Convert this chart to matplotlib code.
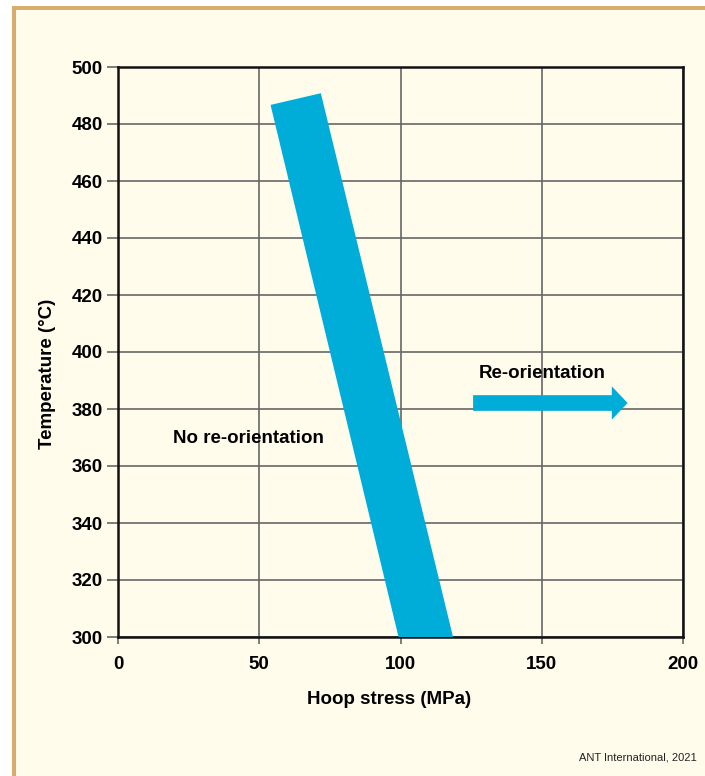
#! /usr/bin/env python

import matplotlib.pyplot as plt
from matplotlib.patches import Rectangle, Polygon, FancyArrow

# band separating the two regions (hoop stress, temperature corners)
band_stress = [54.0, 71.8, 118.6, 99.3]
band_temp = [486.7, 490.8, 300.0, 300.0]

# re-orientation arrow (start, end stress, temperature)
arrow_start = 125.7
arrow_end = 180.4
arrow_temp = 382.1

x_ticks = [0, 50, 100, 150, 200]
y_ticks = [300, 320, 340, 360, 380, 400, 420, 440, 460, 480, 500]

cream = '#FFFCEC'
tan = '#D8AC6E'
blue = '#00ADD8'

plt.rcParams['font.family'] = ['Liberation Sans Narrow', 'Liberation Sans', 'DejaVu Sans']
fs = 13.5

fig = plt.figure(figsize=[7.05, 7.76], dpi=100)
W, H = 705.0, 776.0

# panel background with tan border on left and top
fig.patches.append(Rectangle((12 / W, 0), 1, 1 - 6 / H, transform=fig.transFigure,
                             facecolor=cream, edgecolor='none', zorder=-3))
fig.patches.append(Rectangle((12 / W, 0), 4 / W, 1 - 6 / H, transform=fig.transFigure,
                             facecolor=tan, edgecolor='none', zorder=-2))
fig.patches.append(Rectangle((12 / W, 1 - 10 / H), 1, 4 / H, transform=fig.transFigure,
                             facecolor=tan, edgecolor='none', zorder=-2))

ax = fig.add_axes([118 / W, 1 - 637 / H, (683 - 118) / W, (637 - 67) / H])
ax.set_facecolor(cream)
ax.set_xlim(0, 200)
ax.set_ylim(300, 500)
ax.set_xticks(x_ticks)
ax.set_yticks(y_ticks)
ax.grid(True, color='#666666', linewidth=1.2)
ax.set_axisbelow(True)
for s in ax.spines.values():
    s.set_color('#111111')
    s.set_linewidth(1.8)
ax.tick_params(axis='y', length=8, width=1.2, color='#666666', pad=3)
ax.tick_params(axis='x', length=5, width=1.2, color='#666666', pad=9)
for lab in ax.get_xticklabels() + ax.get_yticklabels():
    lab.set_fontsize(fs)
    lab.set_fontweight('bold')

band = Polygon(list(zip(band_stress, band_temp)), closed=True,
               facecolor=blue, edgecolor='none', zorder=3)
ax.add_patch(band)

ax.add_patch(FancyArrow(arrow_start, arrow_temp, arrow_end - arrow_start, 0,
                        width=5.5, head_width=11.7, head_length=5.6,
                        length_includes_head=True, facecolor=blue,
                        edgecolor='none', zorder=3))

ax.text(150.1, 392.5, 'Re-orientation', fontsize=fs, fontweight='bold',
        ha='center', va='center', zorder=4)
ax.text(46.0, 369.5, 'No re-orientation', fontsize=fs, fontweight='bold',
        ha='center', va='center', zorder=4)

fig.text(389 / W, 1 - 700 / H, 'Hoop stress (MPa)', fontsize=fs,
         fontweight='bold', ha='center', va='center')
fig.text(48 / W, 1 - 374 / H, 'Temperature (°C)', fontsize=fs,
         fontweight='bold', ha='center', va='center', rotation=90)
fig.text(697 / W, 1 - 758 / H, 'ANT International, 2021', fontsize=8,
         ha='right', va='center', color='#222222')

plt.savefig('out.png', dpi=100)
